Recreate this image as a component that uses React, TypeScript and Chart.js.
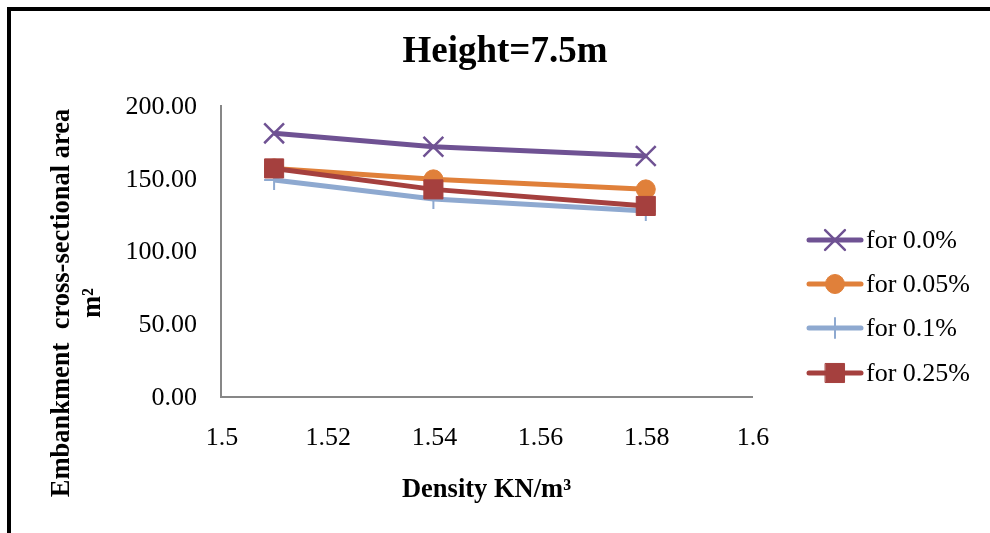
import React, { useEffect, useRef } from "react";
import { Chart, registerables } from "chart.js";
import { drawPoint } from "chart.js/helpers";

Chart.register(...registerables);

// Density values along the x axis (KN/m³)
const densities = [1.51, 1.54, 1.58];

// Embankment cross-sectional area (m²) for each additive percentage
const area00 = [181.2, 172.0, 165.6];
const area005 = [157.1, 149.6, 142.7];
const area01 = [149.1, 136.1, 127.8];
const area025 = [157.1, 142.7, 131.3];

const seriesLabels = ["for 0.0%", "for 0.05%", "for 0.1%", "for 0.25%"];
const seriesColors = ["#6F5293", "#E0803A", "#8EA9D0", "#A5403E"];

const titleText = "Height=7.5m";
const xTitle = "Density KN/m³";
const yTitleLines = ["Embankment  cross-sectional area", "m²"];

const SERIF = '"Liberation Serif", "Times New Roman", serif';

const toPoints = (ys: number[]) => densities.map((x, i) => ({ x, y: ys[i] }));

const fmtX = (v: number) => String(Number(v.toFixed(2)));
const fmtY = (v: number) => v.toFixed(2);

// Draws title, tick labels, axis titles and the legend on the canvas
const decorations = {
  id: "decorations",
  afterDraw(chart: any) {
    const { ctx, chartArea, scales } = chart;
    const xs = scales.x;
    const ys = scales.y;
    ctx.save();
    ctx.fillStyle = "#000";

    // title
    ctx.font = `bold 37px ${SERIF}`;
    ctx.textAlign = "center";
    ctx.textBaseline = "middle";
    ctx.fillText(titleText, 505, 52);

    // y tick labels
    ctx.font = `26px ${SERIF}`;
    ctx.textAlign = "right";
    ctx.textBaseline = "middle";
    ys.ticks.forEach((t: any) => {
      ctx.fillText(fmtY(t.value), 197, ys.getPixelForValue(t.value) + 1);
    });

    // x tick labels
    ctx.textAlign = "center";
    xs.ticks.forEach((t: any) => {
      ctx.fillText(fmtX(t.value), xs.getPixelForValue(t.value) + 1, 438);
    });

    // x axis title
    ctx.font = `bold 26.5px ${SERIF}`;
    ctx.fillText(xTitle, (chartArea.left + chartArea.right) / 2, 490);

    // y axis title (rotated, two lines)
    ctx.save();
    ctx.translate(62, 303);
    ctx.rotate(-Math.PI / 2);
    ctx.fillText(yTitleLines[0], 0, 0);
    ctx.fillText(yTitleLines[1], 0, 31);
    ctx.restore();

    // legend
    const rowYs = [240, 284, 328, 373];
    chart.data.datasets.forEach((ds: any, i: number) => {
      const y = rowYs[i];
      ctx.strokeStyle = ds.borderColor;
      ctx.lineWidth = ds.borderWidth;
      ctx.lineCap = "round";
      ctx.beginPath();
      ctx.moveTo(809, y);
      ctx.lineTo(861, y);
      ctx.stroke();
      ctx.fillStyle = ds.pointBackgroundColor;
      ctx.strokeStyle = ds.pointBorderColor;
      ctx.lineWidth = ds.pointBorderWidth;
      drawPoint(
        ctx,
        {
          pointStyle: ds.pointStyle,
          rotation: 0,
          borderWidth: ds.pointBorderWidth,
          radius: ds.pointRadius,
        },
        835,
        y
      );
      ctx.fillStyle = "#000";
      ctx.font = `26px ${SERIF}`;
      ctx.textAlign = "left";
      ctx.textBaseline = "middle";
      ctx.fillText(seriesLabels[i], 866, y + 1);
    });

    ctx.restore();
  },
};

export default function App() {
  const canvasRef = useRef<HTMLCanvasElement | null>(null);

  useEffect(() => {
    const canvas = canvasRef.current;
    if (!canvas) return;

    const chart = new Chart(canvas, {
      type: "line",
      data: {
        datasets: [
          {
            label: seriesLabels[0],
            data: toPoints(area00),
            borderColor: seriesColors[0],
            backgroundColor: seriesColors[0],
            borderWidth: 5,
            pointStyle: "crossRot",
            pointRadius: 14,
            pointBorderWidth: 2.5,
            pointBorderColor: seriesColors[0],
            pointBackgroundColor: seriesColors[0],
            order: 3,
          },
          {
            label: seriesLabels[1],
            data: toPoints(area005),
            borderColor: seriesColors[1],
            backgroundColor: seriesColors[1],
            borderWidth: 5,
            pointStyle: "circle",
            pointRadius: 9.5,
            pointBorderWidth: 1,
            pointBorderColor: seriesColors[1],
            pointBackgroundColor: seriesColors[1],
            order: 2,
          },
          {
            label: seriesLabels[2],
            data: toPoints(area01),
            borderColor: seriesColors[2],
            backgroundColor: seriesColors[2],
            borderWidth: 5,
            pointStyle: "cross",
            pointRadius: 10,
            pointBorderWidth: 2,
            pointBorderColor: seriesColors[2],
            pointBackgroundColor: seriesColors[2],
            order: 1,
          },
          {
            label: seriesLabels[3],
            data: toPoints(area025),
            borderColor: seriesColors[3],
            backgroundColor: seriesColors[3],
            borderWidth: 5,
            pointStyle: "rect",
            pointRadius: 13.5,
            pointBorderWidth: 1,
            pointBorderColor: seriesColors[3],
            pointBackgroundColor: seriesColors[3],
            order: 0,
          },
        ],
      },
      options: {
        animation: false,
        responsive: false,
        devicePixelRatio: 1,
        layout: { padding: { left: 0, top: 106, right: 238, bottom: 0 } },
        plugins: {
          legend: { display: false },
          title: { display: false },
          tooltip: { enabled: false },
        },
        scales: {
          x: {
            type: "linear",
            min: 1.5,
            max: 1.6,
            ticks: { stepSize: 0.02, display: false },
            grid: { display: false, drawTicks: false },
            border: { display: true, color: "#878787", width: 2 },
            afterFit: (s: any) => {
              s.height = 533 - 397;
            },
          },
          y: {
            min: 0,
            max: 200,
            ticks: { stepSize: 50, display: false },
            grid: { display: false, drawTicks: false },
            border: { display: true, color: "#878787", width: 2 },
            afterFit: (s: any) => {
              s.width = 221;
            },
          },
        },
      },
      plugins: [decorations],
    });

    return () => chart.destroy();
  }, []);

  return (
    <div
      style={{
        position: "fixed",
        left: 0,
        top: 0,
        width: 990,
        height: 533,
        overflow: "hidden",
        background: "#fff",
      }}
    >
      <canvas ref={canvasRef} width={990} height={533} style={{ position: "absolute", left: 0, top: 0 }} />
      <div
        style={{
          position: "absolute",
          left: 7,
          top: 7,
          width: 1100,
          height: 700,
          border: "4px solid #000",
          boxSizing: "border-box",
          pointerEvents: "none",
        }}
      />
    </div>
  );
}
